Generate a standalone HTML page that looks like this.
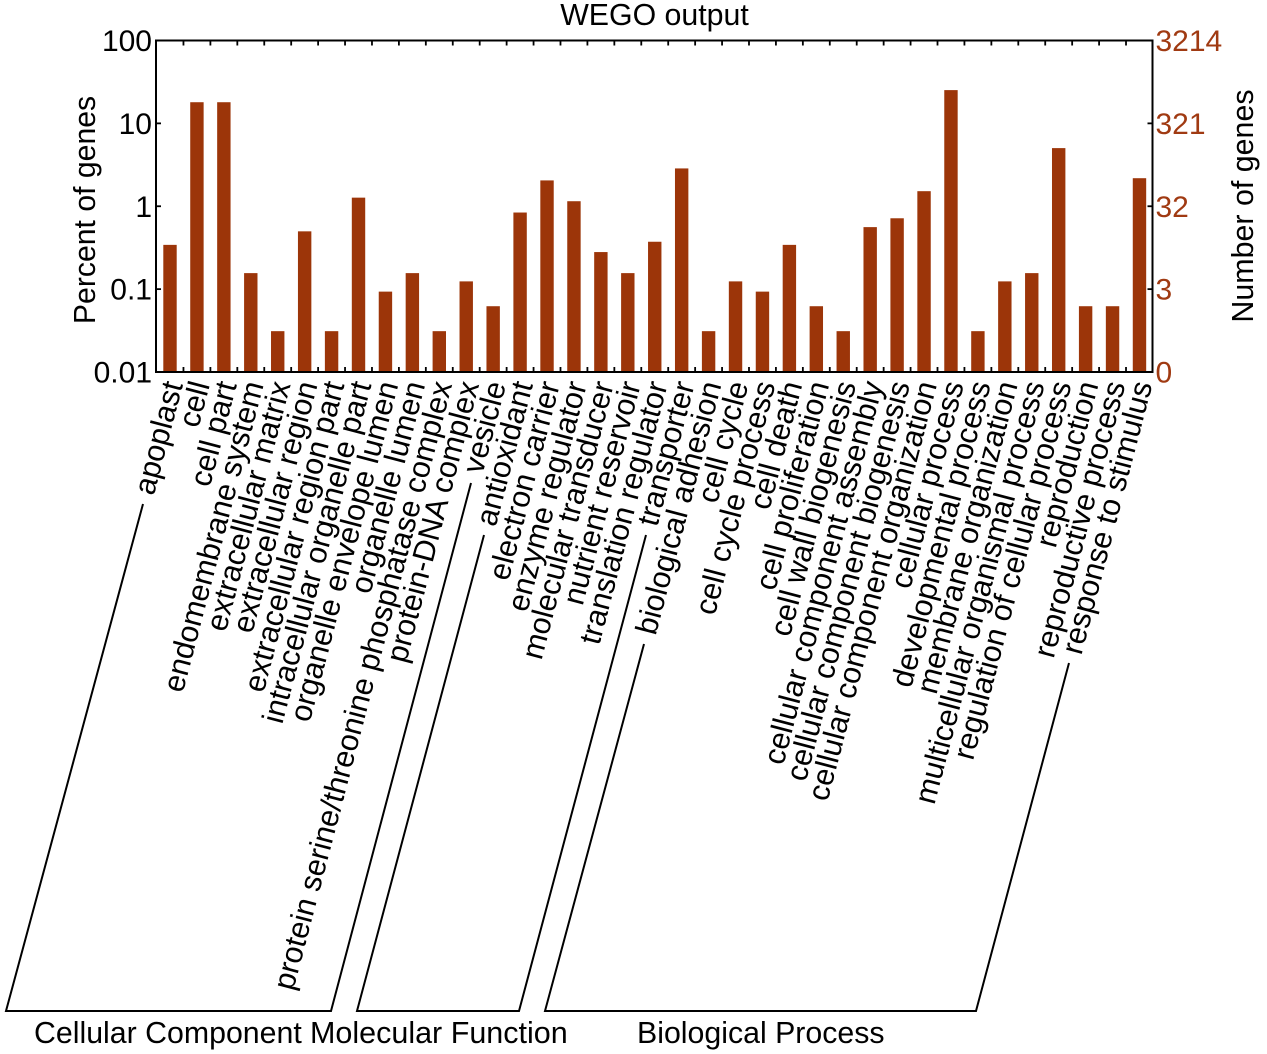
<!DOCTYPE html>
<html lang="en">
<head>
<meta charset="utf-8">
<title>WEGO output</title>
<style>
html,body{margin:0;padding:0;background:#fff;width:1267px;height:1054px;overflow:hidden}
svg{display:block;font-family:"Liberation Sans",sans-serif}
text{fill:#000}
</style>
</head>
<body>
<svg id="chart" xmlns="http://www.w3.org/2000/svg" width="1267" height="1054" viewBox="0 0 1267 1054">
  <text x="654.5" y="25" font-size="30.3" text-anchor="middle">WEGO output</text>
  <text transform="translate(95 210) rotate(-90)" font-size="30.2" text-anchor="middle">Percent of genes</text>
  <text transform="translate(1253 206) rotate(-90)" font-size="30.4" text-anchor="middle">Number of genes</text>
  <g id="bars"></g>
  <g id="ticks"></g>
  <rect x="156" y="40.5" width="996.5" height="331.5" fill="none" stroke="#000" stroke-width="2"/>
  <g id="y-labels"></g>
  <g id="x-labels"></g>
  <polyline points="143,504 6,1011 331,1011 471,483" fill="none" stroke="#000" stroke-width="2"/>
  <polyline points="484,535 357,1011 519,1011 646,535" fill="none" stroke="#000" stroke-width="2"/>
  <polyline points="644,644 545,1011 976,1011 1069,663" fill="none" stroke="#000" stroke-width="2"/>
  <text x="34" y="1043" font-size="30.3">Cellular Component</text>
  <text x="310" y="1043" font-size="30.5">Molecular Function</text>
  <text x="637" y="1043" font-size="30.3">Biological Process</text>
</svg>
<script>
const categories = ["apoplast","cell","cell part","endomembrane system","extracellular matrix","extracellular region","extracellular region part","intracellular organelle part","organelle envelope lumen","organelle lumen","protein serine/threonine phosphatase complex","protein-DNA complex","vesicle","antioxidant","electron carrier","enzyme regulator","molecular transducer","nutrient reservoir","translation regulator","transporter","biological adhesion","cell cycle","cell cycle process","cell death","cell proliferation","cell wall biogenesis","cellular component assembly","cellular component biogenesis","cellular component organization","cellular process","developmental process","membrane organization","multicellular organismal process","regulation of cellular process","reproduction","reproductive process","response to stimulus"];
const percentValues = [0.342,18,18,0.156,0.0311,0.498,0.0311,1.27,0.0933,0.156,0.0311,0.124,0.0622,0.84,2.05,1.15,0.28,0.156,0.373,2.86,0.0311,0.124,0.0933,0.342,0.0622,0.0311,0.56,0.716,1.52,25.2,0.0311,0.124,0.156,5.03,0.0622,0.0622,2.18];
const percentTicks = [100,10,1,0.1,0.01];
const percentTickLabels = ["100","10","1","0.1","0.01"];
const countTickLabels = ["3214","321","32","3","0"];

const NS = "http://www.w3.org/2000/svg";
const BAR_COLOR = "#9c3509";
const plot = {left:156, right:1152.5, top:40.5, bottom:372, firstCenter:170, step:26.93, barWidth:13.4};
const yScale = v => plot.bottom - (Math.log10(v) + 2) / 4 * (plot.bottom - plot.top);
const xScale = i => plot.firstCenter + i * plot.step;

const barsG = document.getElementById("bars");
const ticksG = document.getElementById("ticks");
const yLabelsG = document.getElementById("y-labels");
const xLabelsG = document.getElementById("x-labels");

function tick(x1, y1, x2, y2) {
  const l = document.createElementNS(NS, "line");
  l.setAttribute("x1", x1);
  l.setAttribute("y1", y1);
  l.setAttribute("x2", x2);
  l.setAttribute("y2", y2);
  l.setAttribute("stroke", "#000");
  l.setAttribute("stroke-width", "1.8");
  
  
  ticksG.appendChild(l);
}

categories.forEach((name, i) => {
  const y = yScale(percentValues[i]);
  const r = document.createElementNS(NS, "rect");
  r.setAttribute("x", xScale(i) - plot.barWidth / 2);
  r.setAttribute("y", y);
  r.setAttribute("width", plot.barWidth);
  r.setAttribute("height", plot.bottom - y);
  r.setAttribute("fill", BAR_COLOR);
  
  
  barsG.appendChild(r);

  const t = document.createElementNS(NS, "text");
  t.setAttribute("transform", "translate(" + (xScale(i) + 13) + " 384.5) rotate(-75.3)");
  t.setAttribute("font-size", "30.6");
  t.setAttribute("text-anchor", "end");
  
  
  t.textContent = name;
  xLabelsG.appendChild(t);

  if (i < categories.length - 1) {
    const tx = xScale(i) + plot.step / 2;
    tick(tx, plot.top, tx, plot.top + 5);
    tick(tx, plot.bottom, tx, plot.bottom - 5);
  }
});

percentTicks.forEach((v, i) => {
  const y = yScale(v);
  tick(plot.left, y, plot.left + 5, y);
  tick(plot.right, y, plot.right - 5, y);

  const a = document.createElementNS(NS, "text");
  a.setAttribute("x", plot.left - 4);
  a.setAttribute("y", y + 10.5);
  a.setAttribute("font-size", "30");
  a.setAttribute("text-anchor", "end");
  
  
  a.textContent = percentTickLabels[i];
  yLabelsG.appendChild(a);

  const b = document.createElementNS(NS, "text");
  b.setAttribute("x", plot.right + 3);
  b.setAttribute("y", y + 10.5);
  b.setAttribute("font-size", "30");
  b.setAttribute("style", "fill:#a03a12");
  
  
  b.textContent = countTickLabels[i];
  yLabelsG.appendChild(b);
});
</script>
</body>
</html>
